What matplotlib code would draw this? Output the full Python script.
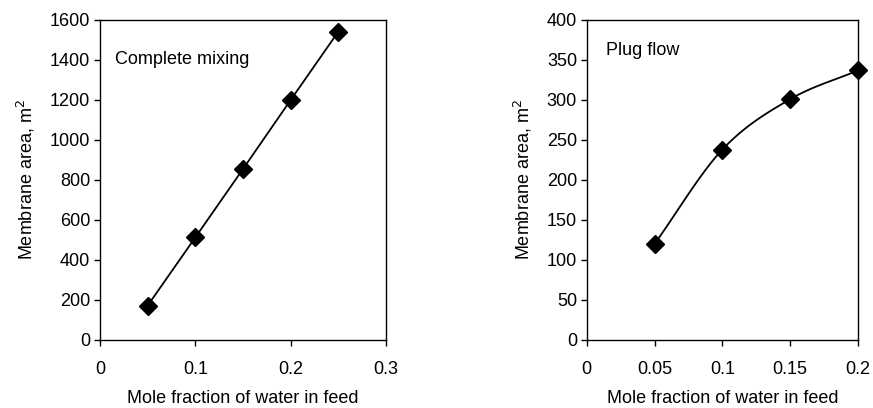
import numpy as np
import matplotlib
matplotlib.use("Agg")
import matplotlib.pyplot as plt

plt.rcParams['font.family'] = ['Liberation Sans', 'DejaVu Sans']

# Complete mixing
x_mix = [0.05, 0.10, 0.15, 0.20, 0.25]
area_mix = [172, 513, 855, 1200, 1542]

# Plug flow
x_plug = [0.05, 0.10, 0.15, 0.20]
area_plug = [120, 238, 301, 337]


def smooth_curve(x, y, n=40):
    # Catmull-Rom style smoothing, similar to a spreadsheet "smoothed line"
    x = np.asarray(x, float)
    y = np.asarray(y, float)
    px = np.concatenate([[2 * x[0] - x[1]], x, [2 * x[-1] - x[-2]]])
    py = np.concatenate([[2 * y[0] - y[1]], y, [2 * y[-1] - y[-2]]])
    xs, ys = [], []
    t = np.linspace(0, 1, n)
    for i in range(1, len(px) - 2):
        for p, out in ((px, xs), (py, ys)):
            p0, p1, p2, p3 = p[i - 1], p[i], p[i + 1], p[i + 2]
            out.extend(0.5 * ((2 * p1) + (-p0 + p2) * t
                              + (2 * p0 - 5 * p1 + 4 * p2 - p3) * t ** 2
                              + (-p0 + 3 * p1 - 3 * p2 + p3) * t ** 3))
    return xs, ys


def style_axes(ax):
    for s in ax.spines.values():
        s.set_linewidth(1.0)
        s.set_color('black')
    ax.tick_params(direction='out', length=4, width=1, labelsize=13, colors='black')
    ax.tick_params(axis='x', pad=11)
    ax.tick_params(axis='y', pad=3)
    ax.set_xlabel('Mole fraction of water in feed', fontsize=13, labelpad=9)
    ax.set_ylabel('Membrane area, m$^2$', fontsize=13, labelpad=9)


fig = plt.figure(figsize=(8.73, 4.08), dpi=100)

ax1 = fig.add_axes([100 / 873, 68 / 408, 286 / 873, 320 / 408])
ax1.plot(x_mix, area_mix, color='black', lw=1.3, marker='D', markersize=9)
ax1.set_xlim(0, 0.3)
ax1.set_ylim(0, 1600)
ax1.set_xticks([0, 0.1, 0.2, 0.3])
ax1.set_xticklabels(['0', '0.1', '0.2', '0.3'])
ax1.set_yticks(range(0, 1601, 200))
ax1.text(0.0155, 1400, 'Complete mixing', fontsize=13, va='center')
style_axes(ax1)

ax2 = fig.add_axes([586.7 / 873, 68 / 408, 271.3 / 873, 320 / 408])
sx, sy = smooth_curve(x_plug, area_plug)
ax2.plot(sx, sy, color='black', lw=1.3)
ax2.plot(x_plug, area_plug, ls='none', color='black', marker='D', markersize=9,
         clip_on=False)
ax2.set_xlim(0, 0.2)
ax2.set_ylim(0, 400)
ax2.set_xticks([0, 0.05, 0.1, 0.15, 0.2])
ax2.set_xticklabels(['0', '0.05', '0.1', '0.15', '0.2'])
ax2.set_yticks(range(0, 401, 50))
ax2.text(0.0142, 362, 'Plug flow', fontsize=13, va='center')
style_axes(ax2)

fig.savefig('out.png', dpi=100)
